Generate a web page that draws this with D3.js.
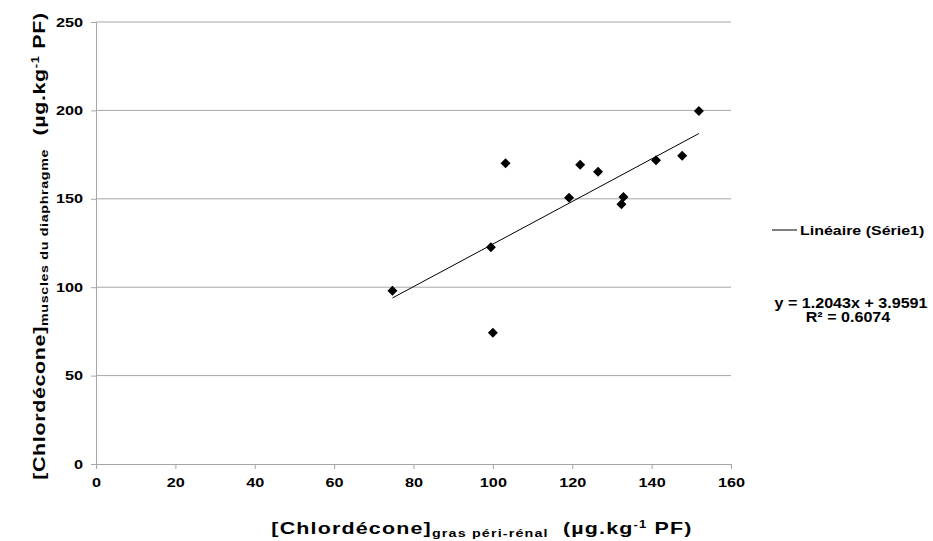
<!DOCTYPE html>
<html><head><meta charset="utf-8">
<script src="https://cdn.jsdelivr.net/npm/d3@7"></script>
<style>
body{margin:0;background:#fff;}
text{font-family:"Liberation Sans",Arial,Helvetica,sans-serif;font-weight:bold;fill:#000;}
</style></head>
<body><svg id="c" width="933" height="541"></svg>
<script>
const xValues = [74.7, 99.5, 100.0, 103.2, 119.2, 122.0, 126.5, 132.9, 132.4, 141.1, 147.7, 151.9];
const yValues = [98.0, 122.6, 74.3, 170.1, 150.6, 169.3, 165.3, 151.0, 146.9, 171.8, 174.4, 199.7];
const xTicks = [0, 20, 40, 60, 80, 100, 120, 140, 160];
const yTicks = [0, 50, 100, 150, 200, 250];
const trendCoef = [1.2043, 3.9591];
const trendLabel = ["y = 1.2043x + 3.9591", "R² = 0.6074"];
const legendLabel = "Linéaire (Série1)";

const SX = 1.3;
const svg = d3.select("#c");
const L = 96, R = 731, T = 22, B = 464;
const x = d3.scaleLinear().domain([0, 160]).range([L, R]);
const y = d3.scaleLinear().domain([0, 250]).range([B, T]);

// gridlines
svg.append("g").selectAll("line").data(yTicks.filter(d => d > 0)).join("line")
  .attr("x1", L).attr("x2", R).attr("y1", d => y(d)).attr("y2", d => y(d))
  .attr("stroke", "#a6a6a6").attr("stroke-width", 1);

// y axis
const ya = svg.append("g").attr("transform", `translate(${L},0)`)
  .call(d3.axisLeft(y).tickValues(yTicks).tickSize(5).tickPadding(10).tickFormat(d3.format("d")));
ya.select(".domain").attr("stroke", "#a6a6a6");
ya.selectAll(".tick line").attr("stroke", "#a6a6a6");
ya.selectAll("text").style("font-size", "12.5px").attr("font-family", null)
  .attr("x", -13 / SX).attr("transform", `scale(${SX},1)`);

// x axis
const xa = svg.append("g").attr("transform", `translate(0,${B})`)
  .call(d3.axisBottom(x).tickValues(xTicks).tickSize(5).tickPadding(9).tickFormat(d3.format("d")));
xa.select(".domain").attr("stroke", "#a6a6a6");
xa.selectAll(".tick line").attr("stroke", "#a6a6a6");
xa.selectAll("text").style("font-size", "12.5px").attr("font-family", null)
  .attr("transform", `scale(${SX},1)`);

// trend line
const xmin = d3.min(xValues), xmax = d3.max(xValues);
svg.append("line")
  .attr("x1", x(xmin)).attr("y1", y(trendCoef[0] * xmin + trendCoef[1]))
  .attr("x2", x(xmax)).attr("y2", y(trendCoef[0] * xmax + trendCoef[1]))
  .attr("stroke", "#000").attr("stroke-width", 1);

// points
const pts = xValues.map((v, i) => [v, yValues[i]]);
svg.append("g").selectAll("path").data(pts).join("path")
  .attr("d", d3.symbol(d3.symbolSquare, 50))
  .attr("transform", d => `translate(${x(d[0])},${y(d[1])}) rotate(45)`)
  .attr("fill", "#000");

// legend
svg.append("line").attr("x1", 772).attr("x2", 797).attr("y1", 230).attr("y2", 230)
  .attr("stroke", "#000").attr("stroke-width", 1);
svg.append("text").attr("transform", `translate(800,234.5) scale(${SX},1)`).style("font-size", "12.3px").text(legendLabel);

// equation
svg.append("text").attr("transform", `translate(851,308) scale(1.15,1)`).attr("text-anchor", "middle")
  .style("font-size", "14px").text(trendLabel[0]);
svg.append("text").attr("transform", `translate(848,322) scale(1.15,1)`).attr("text-anchor", "middle")
  .style("font-size", "14px").text(trendLabel[1]);

function titleParts(t, sub) {
  t.append("tspan").text("[Chlordécone]");
  t.append("tspan").attr("dy", 3).style("font-size", "11px").text(sub);
  t.append("tspan").attr("dy", -3).text("\u00a0\u00a0(µg.kg");
  t.append("tspan").attr("dy", -6).style("font-size", "10px").text("-1");
  t.append("tspan").attr("dy", 6).text(" PF)");
}
// x title
const xt = svg.append("text").attr("transform", `translate(482,534) scale(1.3,1)`).attr("text-anchor", "middle")
  .style("font-size", "16.5px").style("letter-spacing", "0.9px");
titleParts(xt, "gras péri-rénal");

// y title
const yt = svg.append("text").attr("transform", `translate(45,246) rotate(-90) scale(1.3,1)`).attr("text-anchor", "middle")
  .style("font-size", "16.5px").style("letter-spacing", "0.5px");
titleParts(yt, "muscles du diaphragme");
</script></body></html>
